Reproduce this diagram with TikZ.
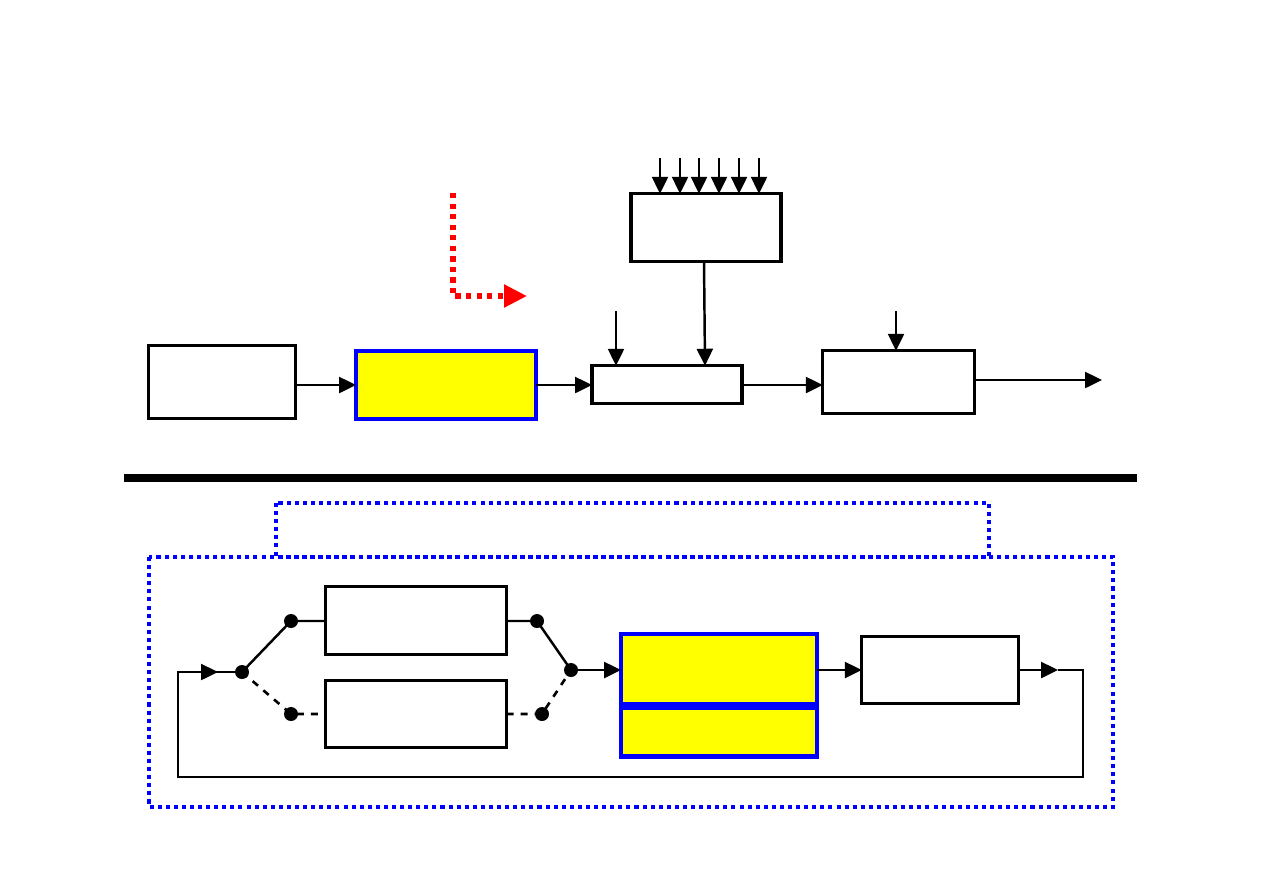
\documentclass[tikz,border=0pt]{standalone}
\usepackage{xcolor}
\usepackage{tikz}
\usetikzlibrary{arrows.meta}

\definecolor{hiyellow}{RGB}{255,255,0}
\definecolor{hiblue}{RGB}{0,0,255}
\definecolor{hired}{RGB}{255,0,0}

\begin{document}
\begin{tikzpicture}[
    x=0.02cm, y=-0.02cm,
    box/.style={
        draw,
        rectangle,
        line width=1.8pt,
        inner sep=0pt,
        outer sep=0pt
    },
    hibox/.style={
        draw=hiblue,
        fill=hiyellow,
        rectangle,
        line width=2.4pt,
        inner sep=0pt,
        outer sep=0pt
    },
    dot/.style={
        circle,
        fill=black,
        inner sep=0pt,
        minimum size=0.28cm
    },
    arrow/.style={-{Triangle[length=0.34cm,width=0.32cm]}, line width=1.4pt},
    wire/.style={line width=1.4pt},
    dashwire/.style={line width=1.5pt, dash pattern=on 4pt off 4pt},
    redarrow/.style={-{Triangle[length=0.46cm,width=0.44cm]}, hired, line width=3pt,
        dash pattern=on 3pt off 3pt},
    frame/.style={draw=hiblue, line width=2.3pt, dash pattern=on 2.3pt off 2.3pt}
]
\useasboundingbox (0,0) rectangle (1263,893);

% Top chain
\node[box, minimum width=2.93cm, minimum height=1.45cm] (src) at (222,382) {};
\node[hibox, minimum width=3.6cm, minimum height=1.36cm] (coder) at (446,385) {};
\node[box, minimum width=3.0cm, minimum height=0.75cm] (mix) at (667,384.5) {};
\node[box, minimum width=3.0cm, minimum height=1.35cm] (ctrl) at (706,227.5) {};
\node[box, minimum width=3.03cm, minimum height=1.25cm] (sink) at (898.5,382) {};

% Free ends
\coordinate (out) at (1102,380);
\coordinate (inmix) at (616,311);
\coordinate (insink) at (896,311);
\coordinate (redstart) at (453,193);
\coordinate (redend) at (527,296);

% Arrows: top chain
\draw[arrow] (src.east |- 0,385) -- (coder.west |- 0,385);
\draw[arrow] (coder.east |- 0,385) -- (mix.west |- 0,385);
\draw[arrow] (mix.east |- 0,385) -- (sink.west |- 0,385);
\draw[arrow] (sink.east |- out) -- (out);
\draw[arrow] (ctrl.south -| 704,0) -- (mix.north -| 705,0);
\draw[arrow] (inmix) -- (inmix |- mix.north);
\draw[arrow] (insink) -- (insink |- sink.north);
\foreach \x in {660,680,699,719,739,759}
    \draw[arrow] (\x,158) -- (ctrl.north -| \x,0);

% Red hint
\draw[redarrow] (redstart) |- (redend);

% Separator
\draw[line width=4.6pt] (124,478) -- (1137,478);

% Bottom frames
\draw[frame] (276,503) rectangle (989,557);
\draw[frame] (149,557) rectangle (1113,807);

% Bottom blocks
\node[box, line width=1.5pt, minimum width=3.62cm, minimum height=1.36cm] (pathA) at (416,620.5) {};
\node[box, line width=1.5pt, minimum width=3.62cm, minimum height=1.34cm] (pathB) at (416,714) {};
\node[hibox, minimum width=3.92cm, minimum height=1.40cm] (encA) at (719,669) {};
\node[hibox, minimum width=3.92cm, minimum height=0.98cm, anchor=north] (encB)
    at ([yshift=-2pt]encA.south) {};
\node[box, line width=1.5pt, minimum width=3.13cm, minimum height=1.34cm] (post) at (940,670) {};

% Switch dots
\node[dot] (swin) at (242,672) {};
\node[dot] (swA) at (291,621) {};
\node[dot] (swB) at (291,714) {};
\node[dot] (swoA) at (537,621) {};
\node[dot] (swout) at (571,670) {};
\node[dot] (swoB) at (542,714) {};

% Switch lines
\draw[wire] (swin.center) -- (swA.center) -- (pathA.west |- swA);
\draw[dashwire] (swin.center) -- (swB.center) -- (pathB.west |- swB);
\draw[wire] (pathA.east |- swoA) -- (swoA.center) -- (swout.center);
\draw[dashwire] (pathB.east |- swoB) -- (swoB.center) -- (swout.center);
\draw[arrow] (swout) -- (encA.west |- swout);
\draw[arrow] (encA.east |- post) -- (post.west);

% Feedback loop
\coordinate (fbtip) at (1058,670);
\coordinate (fbin) at (218,672);
\draw[arrow] (post.east) -- (fbtip);
\draw[wire] (fbtip) -- (1083,670) |- (178,777) |- (fbin);
\draw[arrow] (178,672) -- (fbin);
\draw[wire] (fbin) -- (swin);

\end{tikzpicture}
\end{document}
